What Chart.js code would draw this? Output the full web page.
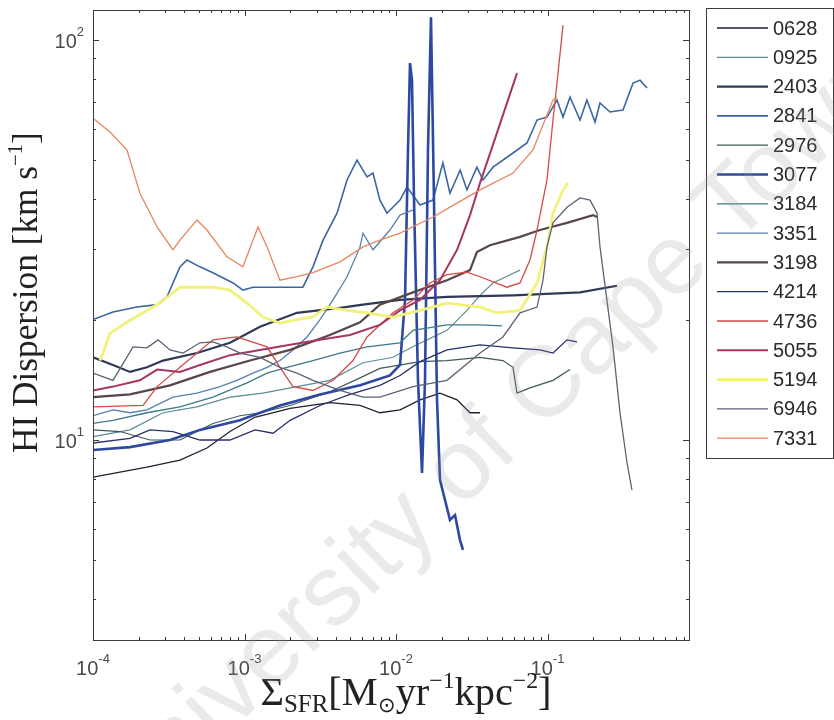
<!DOCTYPE html>
<html lang="en">
  <head>
    <meta charset="UTF-8" />
    <title>HI Dispersion vs Sigma SFR</title>
    <script src="https://cdn.jsdelivr.net/npm/chart.js@4.4.1/dist/chart.umd.min.js"></script>
    <style>
      html, body { margin: 0; padding: 0; background: #fff; }
      #wrap { width: 834px; height: 720px; }
    </style>
  </head>
  <body>
    <div id="wrap"><canvas id="dispChart" width="834" height="720"></canvas></div>

    <script>
      // legend names, colours and line widths
      const galaxies = ["0628", "0925", "2403", "2841", "2976", "3077", "3184", "3351",
        "3198", "4214", "4736", "5055", "5194", "6946", "7331"];
      const lineColors = ["#202030", "#5d8a95", "#303a55", "#3a66a2", "#3e5a55", "#2c48a0",
        "#3d7a88", "#5580b0", "#5a4646", "#283068", "#d54a45", "#a83560", "#f2f27a",
        "#5b6275", "#e8845e"];
      const lineWidths = [1.3, 1.2, 2.2, 1.6, 1.2, 2.6, 1.3, 1.3, 2.2, 1.3, 1.3, 2.0, 2.8, 1.3, 1.3];

      // axis ticks
      const xTicks = [1e-4, 1e-3, 1e-2, 1e-1];
      const xTickExp = ["-4", "-3", "-2", "-1"];
      const yTicks = [10, 100];
      const yTickExp = ["1", "2"];

      // [Sigma_SFR, dispersion] pairs
      const s0628 = [[1.0e-4, 8.08], [2.27e-4, 8.56], [3.75e-4, 8.91], [5.65e-4, 9.55], [8.02e-4, 10.5],
        [1.17e-3, 11.4], [2.0e-3, 12.0], [3.66e-3, 12.4], [5.79e-3, 12.2], [7.83e-3, 11.7],
        [1.063e-2, 11.9], [1.44e-2, 12.6], [1.95e-2, 13.1], [2.53e-2, 12.6], [3.08e-2, 11.7],
        [3.585e-2, 11.7]];
      const s0925 = [[1.0e-4, 10.2], [1.755e-4, 10.6], [2.9e-4, 11.7], [4.86e-4, 12.1], [8.02e-4, 12.8],
        [1.32e-3, 13.1], [2.22e-3, 13.6], [3.66e-3, 14.1], [6.05e-3, 15.6], [9.55e-3, 16.1],
        [1.29e-2, 17.1], [2.17e-2, 18.8], [2.94e-2, 21.1], [3.585e-2, 23.0], [4.365e-2, 24.7],
        [5.656e-2, 25.9], [6.585e-2, 26.6]];
      const s2403 = [[1.0e-4, 16.1], [1.355e-4, 15.4], [1.755e-4, 14.8], [2.27e-4, 15.2], [2.9e-4, 15.8],
        [4.86e-4, 16.5], [8.02e-4, 17.5], [1.265e-3, 19.2], [2.22e-3, 20.8], [4.27e-3, 21.4],
        [6.05e-3, 21.8], [1.063e-2, 22.4], [2.17e-2, 22.8], [5.92e-2, 23.0], [0.164, 23.4],
        [0.288, 24.3]];
      const s2841 = [[1.0e-4, 20.0], [1.355e-4, 20.9], [1.95e-4, 21.5], [2.65e-4, 21.8], [3.08e-4, 22.8],
        [3.75e-4, 27.1], [4.17e-4, 28.2], [5.08e-4, 27.1], [6.19e-4, 26.2], [8.4e-4, 24.7],
        [9.77e-4, 23.7], [1.138e-3, 24.1], [1.908e-3, 24.1], [2.43e-3, 24.1], [2.83e-3, 27.1],
        [3.3e-3, 31.6], [4.08e-3, 36.9], [4.75e-3, 44.7], [5.53e-3, 50.1], [6.44e-3, 45.5],
        [7.05e-3, 46.5], [7.83e-3, 39.8], [8.72e-3, 36.9], [1.063e-2, 39.8], [1.182e-2, 42.9],
        [1.44e-2, 38.7], [1.754e-2, 39.8], [2.04e-2, 49.3], [2.27e-2, 41.4], [2.65e-2, 47.3],
        [2.94e-2, 42.2], [3.42e-2, 48.1], [3.75e-2, 44.7], [4.37e-2, 48.1], [5.92e-2, 52.2],
        [7.32e-2, 55.3], [8.53e-2, 63.1], [9.92e-2, 64.2], [0.1155, 70.8], [0.1266, 64.2],
        [0.1408, 72.0], [0.164, 63.1], [0.182, 70.8], [0.206, 62.4], [0.222, 69.6],
        [0.2585, 66.1], [0.315, 66.8], [0.367, 78.1], [0.408, 79.4], [0.454, 75.9]];
      const s2976 = [[1.0e-4, 10.6], [1.507e-4, 10.5], [2.378e-4, 10.0], [3.75e-4, 10.0], [6.19e-4, 11.0],
        [9.33e-4, 11.5], [1.265e-3, 11.7], [2.0e-3, 12.2], [3.66e-3, 13.2], [5.79e-3, 14.3],
        [7.83e-3, 15.1], [1.44e-2, 15.7], [2.17e-2, 15.8], [3.585e-2, 16.1], [5.08e-2, 15.8],
        [5.92e-2, 15.2], [6.29e-2, 13.1], [7.66e-2, 13.5], [0.1087, 14.1], [0.1408, 15.0]];
      const s3077 = [[1.0e-4, 9.44], [1.755e-4, 9.6], [3.22e-4, 10.0], [5.08e-4, 10.6], [9.33e-4, 11.2],
        [1.714e-3, 12.2], [3.15e-3, 13.0], [5.79e-3, 13.7], [9.12e-3, 14.5], [1.063e-2, 15.4],
        [1.147e-2, 22.4], [1.2e-2, 53.1], [1.237e-2, 87.6], [1.275e-2, 79.4], [1.315e-2, 39.8],
        [1.397e-2, 14.1], [1.485e-2, 8.27], [1.554e-2, 14.1], [1.626e-2, 53.1], [1.702e-2, 114.1],
        [1.781e-2, 39.8], [1.865e-2, 12.6], [1.952e-2, 7.94], [2.106e-2, 7.08], [2.272e-2, 6.31],
        [2.452e-2, 6.49], [2.646e-2, 5.62], [2.767e-2, 5.31]];
      const s3184 = [[1.0e-4, 11.0], [1.355e-4, 11.2], [2.27e-4, 11.7], [3.75e-4, 12.1], [6.19e-4, 12.8],
        [1.039e-3, 13.9], [1.409e-3, 14.7], [1.908e-3, 15.2], [2.83e-3, 15.8], [4.27e-3, 16.5],
        [6.44e-3, 17.1], [1.063e-2, 17.5], [1.294e-2, 18.8], [2.17e-2, 19.4], [3.585e-2, 19.4],
        [5.01e-2, 19.3]];
      const s3351 = [[1.0e-4, 11.5], [1.355e-4, 11.9], [1.755e-4, 11.7], [2.27e-4, 11.9], [3.37e-4, 12.8],
        [4.86e-4, 13.1], [6.89e-4, 13.6], [8.91e-4, 14.1], [1.138e-3, 14.7], [1.409e-3, 15.2],
        [1.714e-3, 15.8], [2.089e-3, 16.8], [2.585e-3, 18.1], [3.15e-3, 20.0], [3.84e-3, 22.4],
        [4.75e-3, 25.6], [5.79e-3, 30.4], [6.05e-3, 32.9], [7.05e-3, 29.9], [9.12e-3, 33.5],
        [1.063e-2, 36.5], [1.294e-2, 37.6]];
      const s3198 = [[1.0e-4, 12.8], [1.755e-4, 13.0], [3.22e-4, 13.7], [5.92e-4, 14.8], [1.087e-3, 15.8],
        [2.0e-3, 16.8], [3.66e-3, 18.3], [5.79e-3, 19.7], [7.83e-3, 21.8], [1.294e-2, 23.4],
        [2.17e-2, 25.1], [3.08e-2, 26.6], [3.42e-2, 29.5], [4.17e-2, 30.7], [6.585e-2, 32.2],
        [8.92e-2, 33.5], [0.1345, 34.9], [0.1997, 36.5], [0.2123, 36.1]];
      const s4214 = [[1.0e-4, 9.83], [1.755e-4, 10.1], [2.378e-4, 10.6], [3.37e-4, 10.5], [5.08e-4, 10.0],
        [8.02e-4, 10.0], [1.173e-3, 10.6], [1.542e-3, 10.4], [2.0e-3, 11.2], [3.15e-3, 12.2],
        [4.97e-3, 13.0], [7.83e-3, 13.7], [1.063e-2, 14.5], [1.44e-2, 15.7], [2.17e-2, 16.8],
        [3.585e-2, 17.3], [5.92e-2, 17.0], [8.92e-2, 16.8], [0.1087, 16.5], [0.1345, 17.8],
        [0.1566, 17.6]];
      const s4736 = [[1.0e-4, 12.1], [2.14e-4, 12.2], [2.65e-4, 13.6], [3.75e-4, 15.2], [6.19e-4, 17.8],
        [8.91e-4, 18.1], [1.409e-3, 17.1], [1.714e-3, 15.2], [2.089e-3, 13.6], [2.83e-3, 13.3],
        [3.84e-3, 14.1], [5.2e-3, 15.8], [6.44e-3, 18.1], [9.55e-3, 20.8], [1.294e-2, 22.4],
        [1.677e-2, 24.7], [2.17e-2, 25.9], [2.94e-2, 26.3], [3.585e-2, 25.6], [5.4e-2, 24.1],
        [6.585e-2, 24.7], [7.66e-2, 28.2], [8.53e-2, 33.5], [9.92e-2, 44.7], [0.1087, 63.1],
        [0.1155, 78.1], [0.1266, 109.0]];
      const s5055 = [[1.0e-4, 13.3], [1.355e-4, 13.6], [2.04e-4, 14.1], [2.65e-4, 15.0], [3.75e-4, 14.8],
        [5.08e-4, 15.4], [8.02e-4, 16.3], [1.265e-3, 16.8], [2.0e-3, 17.3], [3.15e-3, 17.8],
        [4.97e-3, 18.3], [7.83e-3, 19.4], [1.063e-2, 21.1], [1.44e-2, 22.4], [1.95e-2, 25.1],
        [2.53e-2, 29.9], [3.08e-2, 36.5], [3.585e-2, 43.9], [4.64e-2, 58.6], [6.29e-2, 82.7]];
      const s5194 = [[1.112e-4, 15.8], [1.164e-4, 16.5], [1.295e-4, 18.5], [1.677e-4, 19.7], [2.27e-4, 21.1],
        [2.77e-4, 22.0], [3.75e-4, 24.1], [6.19e-4, 24.1], [8.02e-4, 23.7], [1.039e-3, 22.0],
        [1.324e-3, 20.3], [1.714e-3, 19.6], [2.22e-3, 20.0], [2.83e-3, 20.3], [3.5e-3, 21.5],
        [4.75e-3, 21.1], [6.44e-3, 20.8], [9.55e-3, 20.3], [1.44e-2, 21.1], [2.17e-2, 22.0],
        [3.585e-2, 21.5], [4.64e-2, 20.8], [6.585e-2, 21.1], [8.53e-2, 24.7], [9.92e-2, 30.4],
        [0.1087, 36.9], [0.1266, 42.2], [0.1366, 43.9]];
      const s6946 = [[1.0e-4, 14.7], [1.355e-4, 14.1], [1.837e-4, 17.1], [2.27e-4, 17.0], [2.69e-4, 17.8],
        [3.22e-4, 16.8], [3.93e-4, 16.5], [5.08e-4, 17.5], [6.19e-4, 17.6], [7.66e-4, 17.1],
        [9.33e-4, 16.5], [1.265e-3, 16.1], [1.714e-3, 15.2], [2.22e-3, 14.7], [2.83e-3, 14.1],
        [4.27e-3, 13.3], [6.05e-3, 12.8], [7.83e-3, 12.8], [1.294e-2, 13.6], [2.17e-2, 14.1],
        [3.585e-2, 16.5], [5.08e-2, 18.1], [6.585e-2, 20.8], [8.53e-2, 21.5], [9.34e-2, 25.1],
        [9.92e-2, 30.4], [0.1087, 34.9], [0.1345, 38.2], [0.164, 40.3], [0.191, 39.8],
        [0.2123, 36.9], [0.2221, 30.4], [0.2706, 17.1], [0.301, 11.7], [0.335, 8.76], [0.361, 7.5]];
      const s7331 = [[1.0e-4, 63.8], [1.295e-4, 58.9], [1.677e-4, 53.1], [2.04e-4, 41.4], [2.65e-4, 34.1],
        [3.37e-4, 29.9], [3.75e-4, 31.6], [4.86e-4, 35.5], [5.65e-4, 33.5], [7.66e-4, 28.7],
        [9.77e-4, 27.1], [1.228e-3, 34.1], [1.409e-3, 30.4], [1.714e-3, 25.1], [2.22e-3, 25.6],
        [2.83e-3, 26.2], [4.27e-3, 27.9], [6.05e-3, 30.4], [7.83e-3, 31.6], [1.063e-2, 32.9],
        [1.754e-2, 36.1], [2.527e-2, 39.1], [3.585e-2, 42.2], [5.92e-2, 46.5], [8.02e-2, 53.1],
        [0.1087, 70.8], [0.1155, 72.0]];

      const seriesData = [s0628, s0925, s2403, s2841, s2976, s3077, s3184, s3351,
        s3198, s4214, s4736, s5055, s5194, s6946, s7331];

      const SANS = '"Liberation Sans", Arial, sans-serif';
      const SERIF = '"Liberation Serif", "Times New Roman", serif';

      // draws a run of [text, size, dy] pieces; returns total width
      function drawPieces(ctx, pieces, x, y, family, scale, doDraw) {
        let cx = x;
        pieces.forEach(([t, size, dy]) => {
          ctx.font = size * scale + "px " + family;
          if (doDraw) ctx.fillText(t, cx, y + dy * scale);
          cx += ctx.measureText(t).width;
        });
        return cx - x;
      }

      const decor = {
        id: "decor",
        afterDraw(chart) {
          const { ctx, chartArea: a, scales } = chart;
          const xs = scales.x, ys = scales.y;
          ctx.save();

          // axes box
          ctx.strokeStyle = "#3c3c3c";
          ctx.lineWidth = 1;
          ctx.strokeRect(a.left + 0.5, a.top + 0.5, a.right - a.left, a.bottom - a.top);

          // inward ticks on all four sides
          ctx.beginPath();
          for (let k = -4; k <= 0; k++) {
            for (let m = 1; m <= 9; m++) {
              const v = m * Math.pow(10, k);
              if (v < xs.min || v > xs.max) continue;
              const px = Math.round(xs.getPixelForValue(v)) + 0.5;
              const len = m === 1 ? 6 : 3;
              ctx.moveTo(px, a.bottom); ctx.lineTo(px, a.bottom - len);
              ctx.moveTo(px, a.top); ctx.lineTo(px, a.top + len);
            }
          }
          for (let k = 0; k <= 2; k++) {
            for (let m = 1; m <= 9; m++) {
              const v = m * Math.pow(10, k);
              if (v < ys.min || v > ys.max) continue;
              const py = Math.round(ys.getPixelForValue(v)) + 0.5;
              const len = m === 1 ? 6 : 3;
              ctx.moveTo(a.left, py); ctx.lineTo(a.left + len, py);
              ctx.moveTo(a.right, py); ctx.lineTo(a.right - len, py);
            }
          }
          ctx.stroke();

          // tick labels
          ctx.fillStyle = "#4a4a4a";
          ctx.textBaseline = "alphabetic";
          ctx.textAlign = "left";
          xTicks.forEach((v, i) => {
            const px = xs.getPixelForValue(v);
            const pieces = [["10", 20, 0], [xTickExp[i], 13, -12]];
            const w = drawPieces(ctx, pieces, 0, 0, SANS, 1, false);
            drawPieces(ctx, pieces, px - w / 2, a.bottom + 35, SANS, 1, true);
          });
          yTicks.forEach((v, i) => {
            const py = ys.getPixelForValue(v);
            const pieces = [["10", 20, 0], [yTickExp[i], 13, -12]];
            const w = drawPieces(ctx, pieces, 0, 0, SANS, 1, false);
            drawPieces(ctx, pieces, a.left - 9 - w, py + 8, SANS, 1, true);
          });

          // x axis title
          ctx.fillStyle = "#222";
          const xt = [["\u03A3", 34, 0], ["SFR", 21, 6], ["[M", 34, 0], ["\u2299", 18, 6],
            ["yr", 34, 0], ["\u22121", 20, -14], ["kpc", 34, 0], ["\u22122", 20, -14], ["]", 34, 0]];
          let sc = 291 / drawPieces(ctx, xt, 0, 0, SERIF, 1, false);
          let w = drawPieces(ctx, xt, 0, 0, SERIF, sc, false);
          drawPieces(ctx, xt, 406 - w / 2, 705, SERIF, sc, true);

          // y axis title (rotated)
          const yt = [["HI Dispersion [km s", 34, 0], ["\u22121", 20, -14], ["]", 34, 0]];
          sc = 321 / drawPieces(ctx, yt, 0, 0, SERIF, 1, false);
          ctx.save();
          ctx.translate(37, 453);
          ctx.rotate(-Math.PI / 2);
          drawPieces(ctx, yt, 0, 0, SERIF, sc, true);
          ctx.restore();

          // legend box
          const lx = 706, ly = 8, lw = 127, lh = 450;
          ctx.fillStyle = "#fff";
          ctx.fillRect(lx, ly, lw, lh);
          ctx.strokeStyle = "#3c3c3c";
          ctx.lineWidth = 1;
          ctx.strokeRect(lx + 0.5, ly + 0.5, lw, lh);
          ctx.font = "20px " + SANS;
          ctx.textBaseline = "middle";
          chart.data.datasets.forEach((ds, i) => {
            const y = 28 + i * 29.3;
            ctx.strokeStyle = ds.borderColor;
            ctx.lineWidth = ds.borderWidth;
            ctx.beginPath();
            ctx.moveTo(717, y); ctx.lineTo(768, y);
            ctx.stroke();
            ctx.fillStyle = "#2a2a2a";
            ctx.fillText(ds.label, 773, y + 1);
          });

          // faint watermark
          ctx.save();
          ctx.translate(125, 834);
          ctx.rotate(-44 * Math.PI / 180);
          ctx.font = "100px " + SANS;
          ctx.textBaseline = "alphabetic";
          ctx.fillStyle = "rgba(150,150,150,0.2)";
          ctx.fillText("University of Cape Town", 0, 0);
          ctx.restore();

          ctx.restore();
        },
      };

      new Chart(document.getElementById("dispChart"), {
        type: "line",
        data: {
          datasets: seriesData.map((pts, i) => ({
            label: galaxies[i],
            data: pts.map(([x, y]) => ({ x, y })),
            borderColor: lineColors[i],
            borderWidth: lineWidths[i],
            pointRadius: 0,
            tension: 0,
            fill: false,
            order: galaxies.length - i,
          })),
        },
        options: {
          responsive: false,
          devicePixelRatio: 1,
          animation: false,
          events: [],
          layout: { padding: { left: 0, top: 10, right: 145, bottom: 0 } },
          plugins: { legend: { display: false }, tooltip: { enabled: false } },
          scales: {
            x: {
              type: "logarithmic",
              min: 1e-4,
              max: 0.859,
              ticks: { display: false },
              grid: { display: false },
              border: { display: false },
              afterFit(s) { s.height = 80; },
            },
            y: {
              type: "logarithmic",
              min: 3.162,
              max: 118.9,
              ticks: { display: false },
              grid: { display: false },
              border: { display: false },
              afterFit(s) { s.width = 93; },
            },
          },
        },
        plugins: [decor],
      });
    </script>
  </body>
</html>
